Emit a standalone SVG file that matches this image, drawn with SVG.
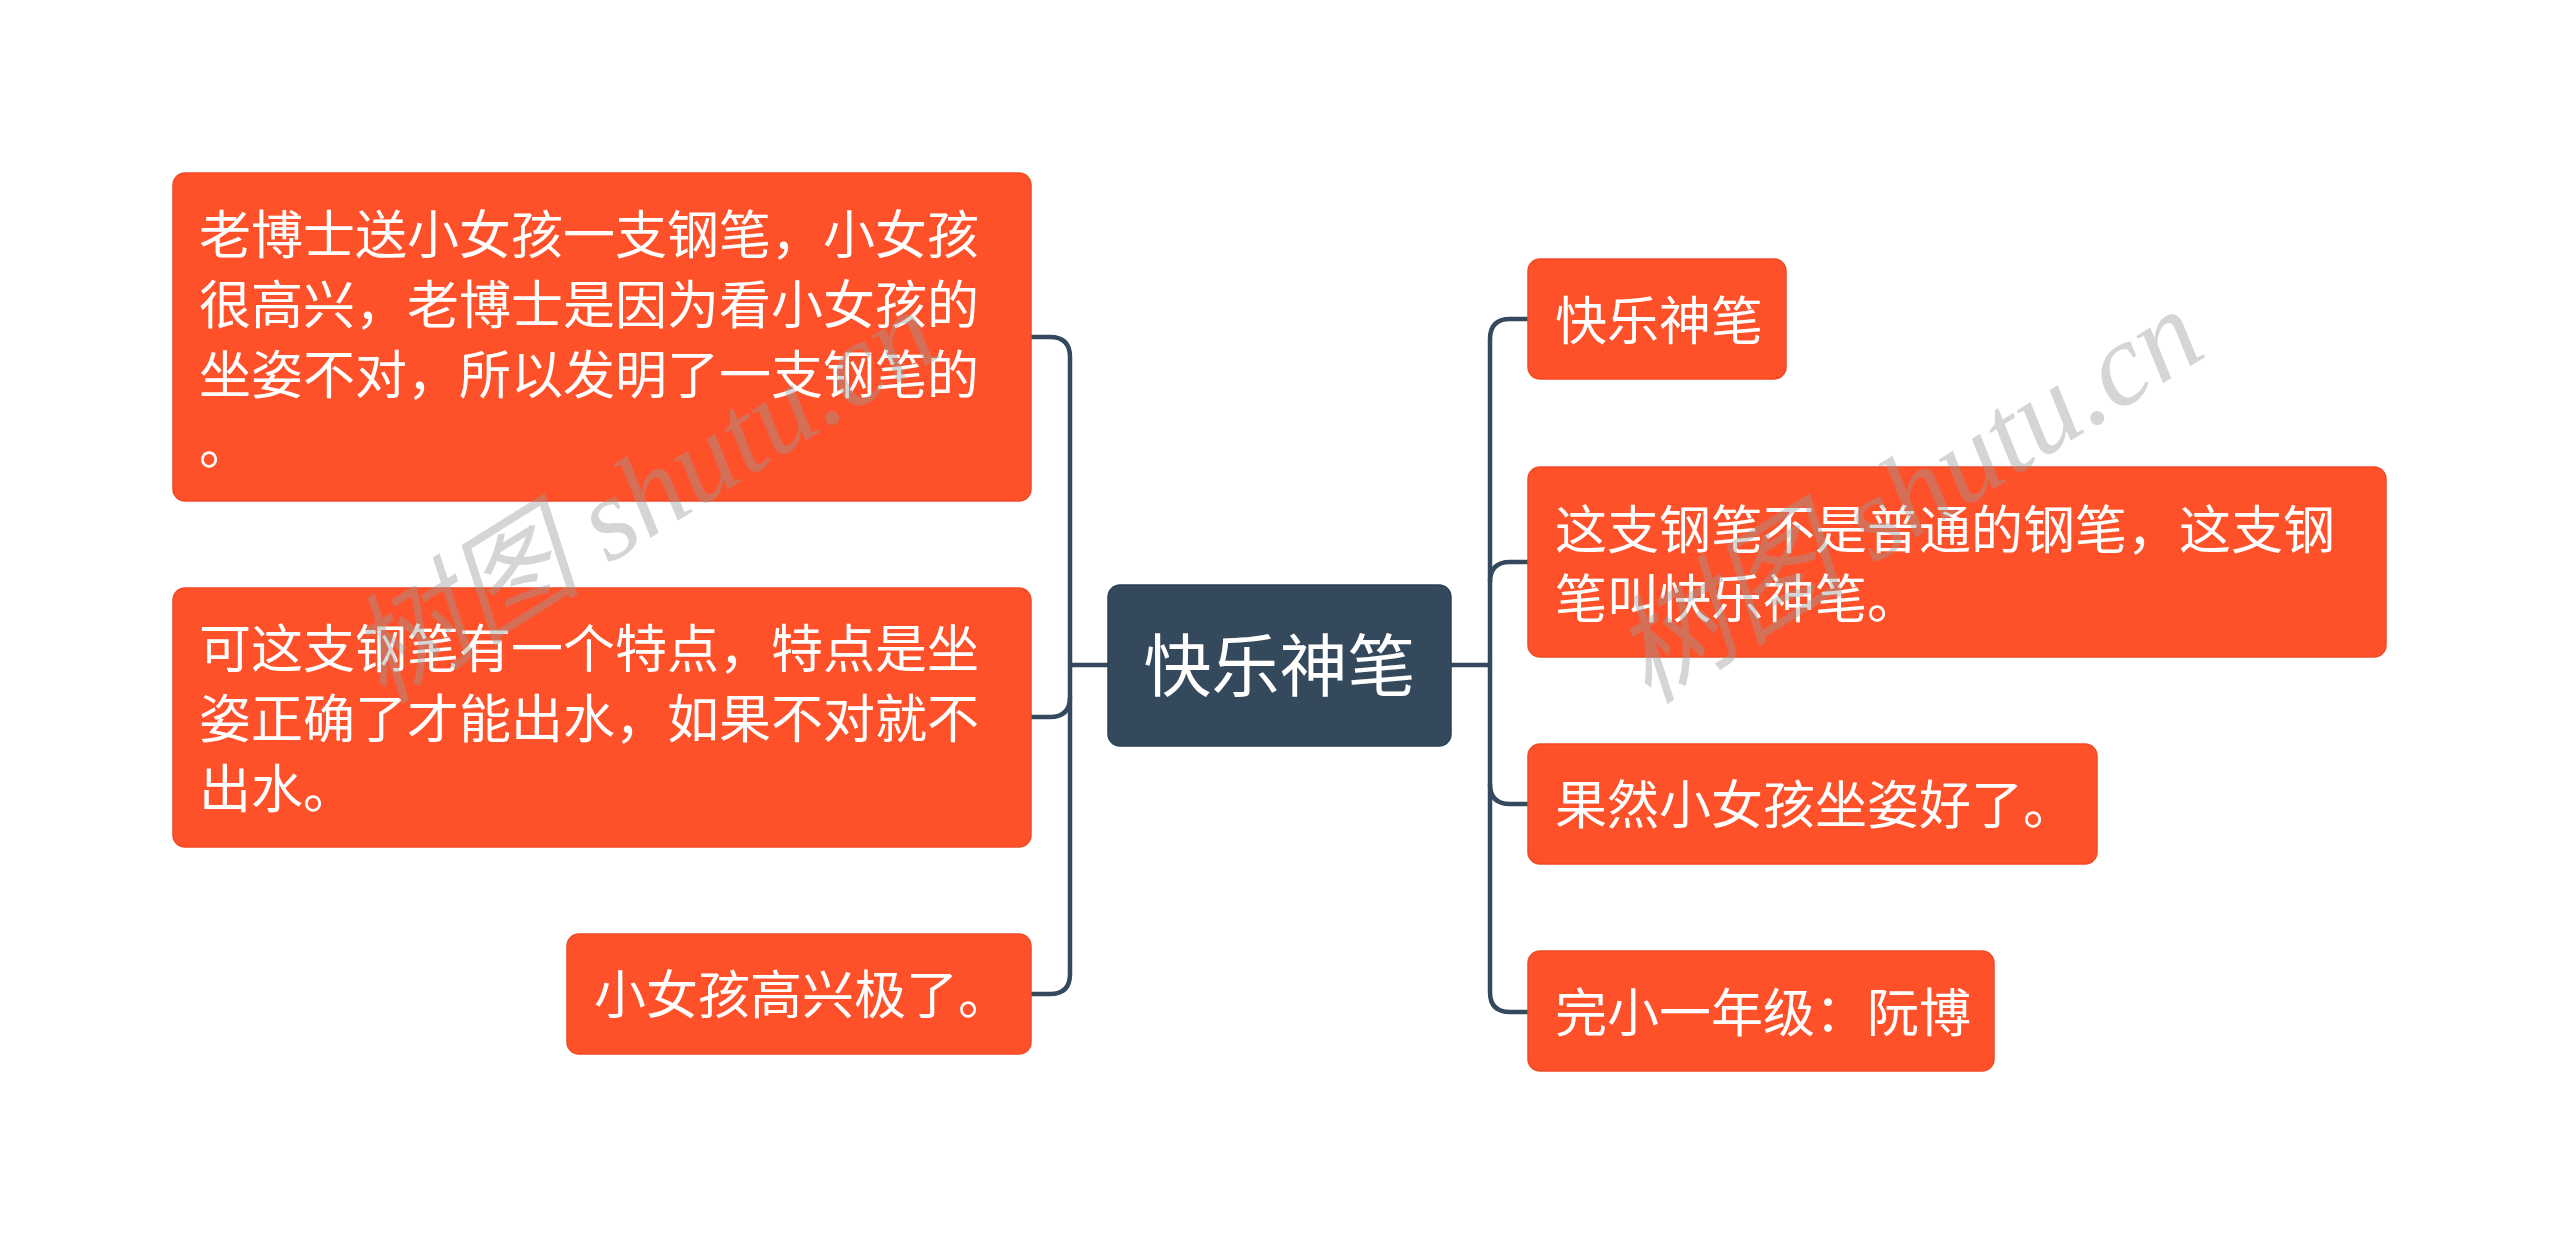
<svg xmlns="http://www.w3.org/2000/svg" width="2560" height="1245" viewBox="0 0 2560 1245">
<style>
.bg{fill:#ffffff}
.sub rect{fill:#FE5029;stroke:#F04A25;stroke-width:1.5}
.root rect{fill:#35495C;stroke:#2E4052;stroke-width:1.5}
.t{font-family:"Noto Sans CJK SC","Noto Sans",sans-serif;fill:#ffffff;font-size:52px}
.rt{font-family:"Noto Sans CJK SC","Noto Sans",sans-serif;fill:#ffffff;font-size:68px}
.links path{fill:none;stroke:#34495E;stroke-width:4.5}
.wm{font-family:"Liberation Serif","Noto Sans CJK SC",serif;font-style:italic;font-size:118px;fill:#9a9a9a;fill-opacity:0.42}
</style>
<rect class="bg" x="0" y="0" width="2560" height="1245"/>
<g id="connectors" class="links">
<path d="M1031,337 H1050 Q1070,337 1070,357 V974 Q1070,994 1050,994 H1031"/>
<path d="M1031,717 H1050 Q1070,717 1070,697"/>
<path d="M1108,665 H1070"/>
<path d="M1528,319 H1510 Q1490,319 1490,339 V992 Q1490,1012 1510,1012 H1528"/>
<path d="M1528,562 H1510 Q1490,562 1490,582"/>
<path d="M1528,804 H1510 Q1490,804 1490,784"/>
<path d="M1451,665 H1490"/>
</g>
<g id="root" class="root">
<rect x="1108" y="585" width="343" height="161" rx="12"/>
<text class="rt" x="1279.5" y="691" text-anchor="middle">快乐神笔</text>
</g>
<g id="left1" class="sub">
<rect x="173" y="173" width="858" height="328" rx="12"/>
<text class="t" x="199" y="254">老博士送小女孩一支钢笔，小女孩</text>
<text class="t" x="199" y="324">很高兴，老博士是因为看小女孩的</text>
<text class="t" x="199" y="394">坐姿不对，所以发明了一支钢笔的</text>
<text class="t" x="199" y="464">。</text>
</g>
<g id="left2" class="sub">
<rect x="173" y="588" width="858" height="259" rx="12"/>
<text class="t" x="199" y="668">可这支钢笔有一个特点，特点是坐</text>
<text class="t" x="199" y="738">姿正确了才能出水，如果不对就不</text>
<text class="t" x="199" y="808">出水。</text>
</g>
<g id="left3" class="sub">
<rect x="567" y="934" width="464" height="120" rx="12"/>
<text class="t" x="594" y="1014">小女孩高兴极了。</text>
</g>
<g id="right1" class="sub">
<rect x="1528" y="259" width="258" height="120" rx="12"/>
<text class="t" x="1555" y="340">快乐神笔</text>
</g>
<g id="right2" class="sub">
<rect x="1528" y="467" width="858" height="190" rx="12"/>
<text class="t" x="1555" y="549">这支钢笔不是普通的钢笔，这支钢</text>
<text class="t" x="1555" y="618">笔叫快乐神笔。</text>
</g>
<g id="right3" class="sub">
<rect x="1528" y="744" width="569" height="120" rx="12"/>
<text class="t" x="1555" y="824">果然小女孩坐姿好了。</text>
</g>
<g id="right4" class="sub">
<rect x="1528" y="951" width="466" height="120" rx="12"/>
<text class="t" x="1555" y="1032">完小一年级：阮博</text>
</g>
<g id="watermarks">
<text class="wm" transform="translate(383,705) rotate(-32)">树图 shutu.cn</text>
<text class="wm" transform="translate(1648,705) rotate(-32)">树图 shutu.cn</text>
</g>
</svg>
